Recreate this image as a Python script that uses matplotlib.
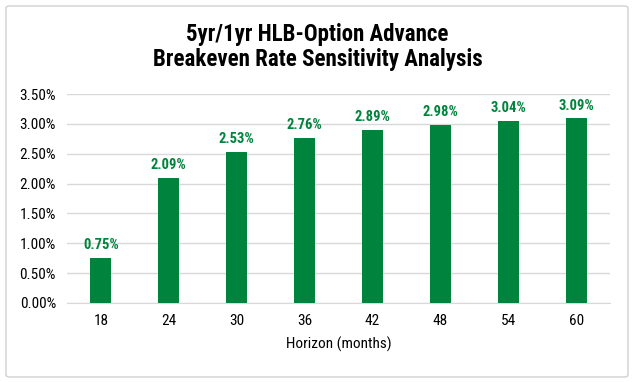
import matplotlib.pyplot as plt
from matplotlib.patches import FancyBboxPatch

horizons = ["18", "24", "30", "36", "42", "48", "54", "60"]
rates = [0.75, 2.09, 2.53, 2.76, 2.89, 2.98, 3.04, 3.09]
yticks = [0.0, 0.5, 1.0, 1.5, 2.0, 2.5, 3.0, 3.5]

plt.rcParams["font.family"] = ["Roboto Condensed", "Liberation Sans", "DejaVu Sans"]

green = "#00843D"

fig = plt.figure(figsize=(6.35, 3.82), dpi=100)
# chart border
fig.patches.append(FancyBboxPatch((6 / 635, 5 / 382), 622 / 635, 371 / 382,
                                  boxstyle="round,pad=0,rounding_size=0.006",
                                  transform=fig.transFigure, fill=False,
                                  edgecolor="#d0d0d0", linewidth=1.0))

ax = fig.add_axes([67 / 635, 1 - 303 / 382, 543 / 635, 209 / 382])
x = range(len(horizons))
ax.bar(x, rates, width=0.31, color=green, zorder=3)
for xi, r in zip(x, rates):
    ax.text(xi, r + 0.1, f"{r:.2f}%", ha="center", va="bottom",
            color=green, fontsize=10.5, fontweight="bold")

ax.set_xlim(-0.5, len(horizons) - 0.5)
ax.set_ylim(0, 3.5)
ax.set_yticks(yticks)
ax.set_yticklabels([f"{t:.2f}%" for t in yticks], fontsize=11)
ax.set_xticks(list(x))
ax.set_xticklabels(horizons, fontsize=11)
ax.tick_params(length=0, pad=8, colors="#000000")
ax.yaxis.grid(True, color="#d9d9d9", linewidth=1.0, zorder=0)
for s in ["top", "right", "left"]:
    ax.spines[s].set_visible(False)
ax.spines["bottom"].set_color("#d9d9d9")
ax.set_xlabel("Horizon (months)", fontsize=11, labelpad=6)

fig.text(0.5, 1 - 47 / 382, "5yr/1yr HLB-Option Advance\nBreakeven Rate Sensitivity Analysis",
         ha="center", va="center", fontsize=16.5, fontweight="bold", linespacing=1.12)

fig.savefig("out.png", dpi=100)
